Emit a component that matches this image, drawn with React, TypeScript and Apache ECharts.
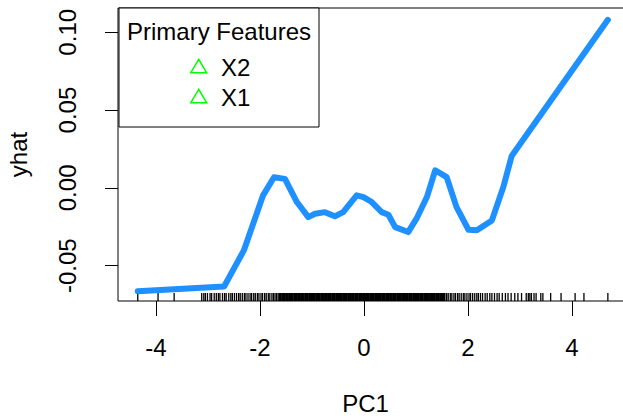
import React, { useEffect, useRef } from "react";
import * as echarts from "echarts";

// Partial dependence curve (PC1 -> yhat)
const pcValues = [-4.35, -2.69, -2.31, -1.94, -1.73, -1.52, -1.29, -1.07, -0.94, -0.75, -0.56, -0.4, -0.14, -0.01, 0.15, 0.34, 0.47, 0.6, 0.85, 1.01, 1.21, 1.37, 1.59, 1.78, 2.01, 2.17, 2.46, 2.68, 2.84, 4.69];
const yhatValues = [-0.0664, -0.0634, -0.0402, -0.0048, 0.0068, 0.0058, -0.0091, -0.0188, -0.0166, -0.0156, -0.0183, -0.0156, -0.0048, -0.0059, -0.0091, -0.0156, -0.0173, -0.0252, -0.0284, -0.0198, -0.0059, 0.0113, 0.0069, -0.0124, -0.0269, -0.0273, -0.0209, 0.0005, 0.0205, 0.108];

// Rug of observed PC1 values
const rugLeft = [-4.35, -3.96, -3.65, -3.12, -3.08, -3.05, -3.01, -2.96, -2.93, -2.88, -2.84, -2.8, -2.77, -2.72, -2.68, -2.65, -2.6, -2.56, -2.53, -2.49, -2.45, -2.41, -2.38, -2.34, -2.3, -2.27, -2.23, -2.19, -2.16, -2.12, -2.09, -2.05, -2.02, -1.98, -1.95, -1.91, -1.88, -1.84, -1.81, -1.77, -1.74, -1.71, -1.68, -1.65];
const rugCore = [-1.62, -1.6, -1.57, -1.55, -1.52, -1.49, -1.47, -1.44, -1.42, -1.39, -1.37, -1.34, -1.31, -1.29, -1.26, -1.24, -1.21, -1.18, -1.16, -1.13, -1.11, -1.08, -1.05, -1.03, -1.0, -0.98, -0.95, -0.92, -0.9, -0.87, -0.85, -0.82, -0.79, -0.77, -0.74, -0.72, -0.69, -0.66, -0.64, -0.61, -0.59, -0.56, -0.53, -0.51, -0.48, -0.46, -0.43, -0.4, -0.38, -0.35, -0.33, -0.3, -0.27, -0.25, -0.22, -0.2, -0.17, -0.14, -0.12, -0.09, -0.07, -0.04, -0.01, 0.01, 0.04, 0.06, 0.09, 0.12, 0.14, 0.17, 0.19, 0.22, 0.25, 0.27, 0.3, 0.32, 0.35, 0.38, 0.4, 0.43, 0.45, 0.48, 0.51, 0.53, 0.56, 0.58, 0.61, 0.64, 0.66, 0.69, 0.71, 0.74, 0.77, 0.79, 0.82, 0.84, 0.87, 0.9, 0.92, 0.95, 0.97, 1.0, 1.03, 1.05, 1.08, 1.1, 1.13, 1.16, 1.18, 1.21, 1.23, 1.26, 1.29, 1.31, 1.34, 1.36, 1.39, 1.42, 1.44, 1.47, 1.49, 1.52, 1.55];
const rugRight = [1.59, 1.62, 1.66, 1.69, 1.73, 1.76, 1.8, 1.83, 1.87, 1.91, 1.94, 1.98, 2.02, 2.05, 2.09, 2.13, 2.17, 2.2, 2.24, 2.28, 2.33, 2.37, 2.42, 2.46, 2.51, 2.56, 2.6, 2.66, 2.72, 2.77, 2.83, 2.9, 2.96, 3.03, 3.12, 3.16, 3.19, 3.22, 3.27, 3.31, 3.4, 3.44, 3.59, 3.79, 4.06, 4.23, 4.69];

const xTicks = [-4, -2, 0, 2, 4];
const yTicks = [-0.05, 0, 0.05, 0.1];
const legendTitle = "Primary Features";
const legendItems = ["X2", "X1"];

const X_MIN = -4.73;
const X_MAX = 5.058;
const Y_MIN = -0.0727;
const Y_MAX = 0.1156;

const FONT = "'Liberation Sans', Arial, sans-serif";

function rugSeries(values: number[], width: number) {
  return {
    type: "custom",
    renderItem: (params: any, api: any) => {
      const p = api.coord([api.value(0), Y_MIN]);
      return {
        type: "line",
        shape: { x1: p[0], y1: p[1], x2: p[0], y2: p[1] - 8 },
        style: { stroke: "#000", lineWidth: width },
      };
    },
    data: values.map((v) => [v, Y_MIN]),
    encode: { x: 0, y: 1 },
    silent: true,
  };
}

export default function App() {
  const ref = useRef<HTMLDivElement>(null);
  useEffect(() => {
    if (!ref.current) return;
    const chart = echarts.init(ref.current, null, { renderer: "svg" });
    const lineData = pcValues.map((x, i) => [x, yhatValues[i]]);

    const legendGraphics: any[] = [
      {
        type: "rect",
        shape: { x: 119, y: 8, width: 200, height: 119 },
        style: { fill: "#fff", stroke: "#000", lineWidth: 1 },
        z: 10,
      },
      {
        type: "text",
        x: 219,
        y: 31,
        style: { text: legendTitle, font: `24px ${FONT}`, fill: "#000", textAlign: "center", textVerticalAlign: "middle" },
        z: 11,
      },
    ];
    legendItems.forEach((name, i) => {
      const cy = 66 + i * 30;
      legendGraphics.push({
        type: "polygon",
        shape: { points: [[198.7, cy - 6.7], [190.8, cy + 6.7], [206.6, cy + 6.7]] },
        style: { fill: "none", stroke: "#00ff00", lineWidth: 1.5 },
        z: 11,
      });
      legendGraphics.push({
        type: "text",
        x: 221,
        y: cy + 1.5,
        style: { text: name, font: `24px ${FONT}`, fill: "#000", textAlign: "left", textVerticalAlign: "middle" },
        z: 11,
      });
    });

    chart.setOption({
      animation: false,
      backgroundColor: "#fff",
      textStyle: { fontFamily: FONT },
      grid: {
        left: 118, top: 8, right: -4, bottom: 117,
        outerBoundsMode: "none", containLabel: false,
        show: true, borderColor: "#000", borderWidth: 1, backgroundColor: "transparent",
      },
      xAxis: {
        type: "value",
        min: X_MIN,
        max: X_MAX,
        name: "PC1",
        nameLocation: "middle",
        nameGap: 90,
        nameTextStyle: { fontSize: 24, color: "#000", fontFamily: FONT, padding: [0, 14, 0, 0] },
        axisLine: { show: false, onZero: false },
        splitLine: { show: false },
        axisTick: { show: true, length: 15, customValues: xTicks, lineStyle: { color: "#000", width: 1 } },
        axisLabel: { customValues: xTicks, fontSize: 24, color: "#000", margin: 34, fontFamily: FONT, formatter: (v: number) => String(v) },
      },
      yAxis: {
        type: "value",
        min: Y_MIN,
        max: Y_MAX,
        name: "yhat",
        nameLocation: "middle",
        nameGap: 88,
        nameRotate: 90,
        nameTextStyle: { fontSize: 24, color: "#000", fontFamily: FONT },
        axisLine: { show: false, onZero: false },
        splitLine: { show: false },
        axisTick: { show: true, length: 13, customValues: yTicks, lineStyle: { color: "#000", width: 1 } },
        axisLabel: { customValues: yTicks, rotate: 90, fontSize: 24, color: "#000", margin: 39, fontFamily: FONT, formatter: (v: number) => v.toFixed(2) },
      },
      series: [
        rugSeries(rugLeft, 1.3),
        rugSeries(rugCore, 2),
        rugSeries(rugRight, 1.3),
        {
          type: "line",
          data: lineData,
          showSymbol: false,
          lineStyle: { color: "#1e90ff", width: 6, cap: "round", join: "round" },
          z: 5,
        },
      ],
      graphic: legendGraphics,
    });
    return () => chart.dispose();
  }, []);
  return <div ref={ref} style={{ position: "fixed", left: 0, top: 0, width: 623, height: 418 }} />;
}
